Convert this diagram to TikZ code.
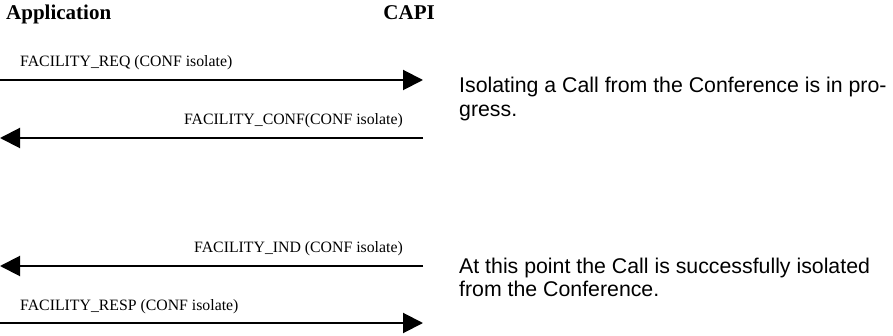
\documentclass[tikz,border=0pt]{standalone}
\usepackage{fontspec}
\setmainfont{Liberation Serif}
\newfontfamily\arialfont{Liberation Sans}
\usetikzlibrary{arrows.meta}
\begin{document}
\begin{tikzpicture}[x=1pt,y=-1pt,
  head/.style={font=\bfseries\fontsize{21}{24}\selectfont, inner sep=0pt},
  msglabel/.style={font=\fontsize{15.8}{18}\selectfont, inner sep=0pt},
  note/.style={font=\arialfont\fontsize{21.3}{23.5}\selectfont, inner sep=0pt, align=left},
  msg/.style={line width=2pt, -{Triangle[length=20pt,width=20pt]}}]
\useasboundingbox (0,0) rectangle (893,336);
\node[head, anchor=base west] (app) at (6,20) {Application};
\node[head, anchor=base east] (capi) at (435,20) {CAPI};

\coordinate (a1) at (0,80);   \coordinate (c1) at (423,80);
\coordinate (a2) at (0,138);  \coordinate (c2) at (423,138);
\coordinate (a3) at (0,266);  \coordinate (c3) at (423,266);
\coordinate (a4) at (0,323);  \coordinate (c4) at (423,323);

\draw[msg] (a1) -- (c1);
\draw[msg] (c2) -- (a2);
\draw[msg] (c3) -- (a3);
\draw[msg] (a4) -- (c4);

\node[msglabel, anchor=base west] (l1) at (20,67) {FACILITY\_REQ (CONF isolate)};
\node[msglabel, anchor=base east] (l2) at (403,125) {FACILITY\_CONF(CONF isolate)};
\node[msglabel, anchor=base east] (l3) at (403,253) {FACILITY\_IND (CONF isolate)};
\node[msglabel, anchor=base west] (l4) at (20,310) {FACILITY\_RESP (CONF isolate)};

\node[note, anchor=base west] (n1) at (459,116.5) {Isolating a Call from the Conference is in pro-\\gress.};
\node[note, anchor=base west] (n2) at (459,296.5) {At this point the Call is successfully isolated\\from the Conference.};
\end{tikzpicture}
\end{document}
